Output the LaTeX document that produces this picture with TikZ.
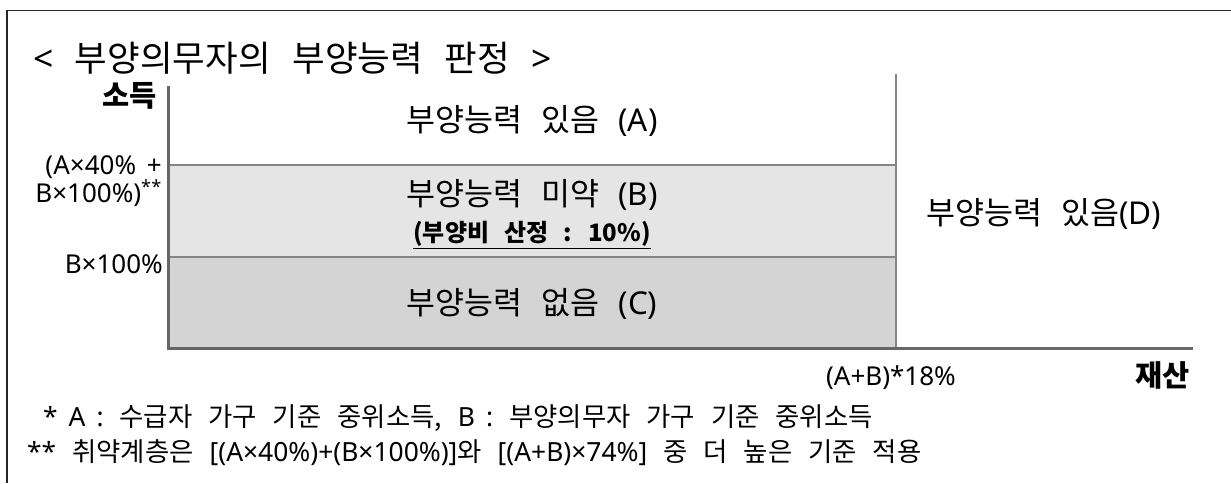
\documentclass[tikz,border=0pt]{standalone}
\usepackage{fontspec}
\setmainfont[WordSpace=2.7]{Noto Sans CJK KR}
\newfontfamily\lat[WordSpace=1.6]{Noto Sans}
\begin{document}
\begin{tikzpicture}[x=1pt,y=-1pt,
  frame/.style={draw=black!85, line width=1.6pt},
  axisline/.style={draw=black!60, line width=3pt},
  gridline/.style={draw=black!48, line width=1.4pt},
  bandB/.style={fill=black!10},
  bandC/.style={fill=black!17},
  txt/.style={inner sep=0pt, text=black},
  titletxt/.style={txt, font=\fontsize{35.5}{40}\selectfont},
  lbl/.style={txt, font=\fontsize{31.5}{35}\selectfont},
  sublbl/.style={txt, font=\fontsize{24}{28}\selectfont\bfseries},
  axbold/.style={txt, font=\fontsize{29.5}{33}\selectfont\bfseries},
  axl/.style={txt, font=\fontsize{26}{18.5}\selectfont\lat},
  fn/.style={txt, font=\fontsize{26.4}{28}\selectfont}]
\useasboundingbox (0,0) rectangle (1231,483);
% frame (top and left edges only)
\coordinate (ftr) at (1231,10.5);
\coordinate (ftl) at (7,10.5);
\coordinate (fbl) at (7,483);
\draw[frame] (ftr) -- (ftl) -- (fbl);
% bands
\coordinate (b1) at (168,165);
\coordinate (b2) at (896,257);
\coordinate (c1) at (168,257);
\coordinate (c2) at (896,348);
\fill[bandB] (b1) rectangle (b2);
\fill[bandC] (c1) rectangle (c2);
% grid lines
\coordinate (h1l) at (168,165); \coordinate (h1r) at (896,165);
\coordinate (h2l) at (168,257); \coordinate (h2r) at (896,257);
\coordinate (vt) at (896,74); \coordinate (vb) at (896,348);
\draw[gridline] (h1l) -- (h1r);
\draw[gridline] (h2l) -- (h2r);
\draw[gridline] (vt) -- (vb);
% axes
\coordinate (ytop) at (168,86);
\coordinate (orig) at (168,348);
\coordinate (xend) at (1193,348);
\draw[axisline] (ytop) -- (orig) -- (xend);
% texts
\node[titletxt, anchor=west] (title) at (33,58) {{\lat <} 부양의무자의 부양능력 판정 {\lat >}};
\node[axbold, anchor=east] (income) at (157,96) {소득};
\node[lbl] (A) at (532,121) {부양능력 있음 {\lat (A)}};
\node[lbl] (B) at (532,195) {부양능력 미약 {\lat (B)}};
\node[sublbl] (Bsub) at (532,235) {\underline{(부양비 산정 : 10\%)}};
\node[lbl] (C) at (532,304) {부양능력 없음 {\lat (C)}};
\node[lbl] (D) at (1044,214) {부양능력 있음{\lat (D)}};
\node[axl, anchor=east, align=right] (tick1) at (162,181) {(A×40\% +\\B×100\%)\textsuperscript{**}};
\node[axl, anchor=east] (tick2) at (163,264) {B×100\%};
\node[axl] (tick3) at (891,378) {(A+B)*18\%};
\node[axbold, anchor=east] (asset) at (1190,375) {재산};
\node[fn, anchor=base west] (fn1) at (43,426) {{\lat * A :} 수급자 가구 기준 중위소득, {\lat B :} 부양의무자 가구 기준 중위소득};
\node[fn, anchor=base west] (fn2) at (27,461) {{\lat **} 취약계층은 {\lat [(A×40\%)+(B×100\%)]}와 {\lat [(A+B)×74\%]} 중 더 높은 기준 적용};
\end{tikzpicture}
\end{document}
